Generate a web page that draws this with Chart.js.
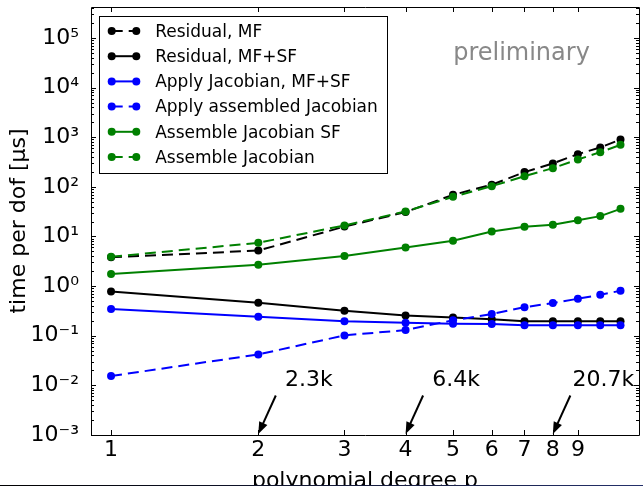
<!DOCTYPE html>
<html>
<head>
<meta charset="utf-8">
<script src="https://cdn.jsdelivr.net/npm/chart.js@4.4.0/dist/chart.umd.min.js"></script>
<style>
  html, body { margin:0; padding:0; background:#fff; overflow:hidden; }
  #wrap { position:relative; width:643px; height:486px; }
  #c { display:block; }
</style>
</head>
<body>
<div id="wrap"><canvas id="c" width="643" height="486"></canvas></div>
<script>
// ---- data ----
const degrees = [1, 2, 3, 4, 5, 6, 7, 8, 9, 10, 11];
const residualMF       = [3.8, 5.2, 15.8, 31, 69, 110, 198, 296, 456, 621, 900];
const residualMFSF     = [0.78, 0.46, 0.318, 0.257, 0.234, 0.215, 0.195, 0.195, 0.195, 0.195, 0.195];
const applyJacMFSF     = [0.344, 0.241, 0.195, 0.183, 0.175, 0.173, 0.162, 0.162, 0.162, 0.162, 0.162];
const applyAssembled   = [0.0154, 0.042, 0.1016, 0.130, 0.205, 0.274, 0.375, 0.455, 0.556, 0.668, 0.805];
const assembleJacSF    = [1.75, 2.69, 4.02, 6.02, 8.2, 12.6, 15.7, 17.2, 21.3, 25.7, 36];
const assembleJac      = [3.9, 7.45, 16.7, 31.9, 63, 103, 164, 238, 356, 500, 701];

const seriesLabels = ['Residual, MF', 'Residual, MF+SF', 'Apply Jacobian, MF+SF',
                      'Apply assembled Jacobian', 'Assemble Jacobian SF', 'Assemble Jacobian'];
const seriesValues = [residualMF, residualMFSF, applyJacMFSF, applyAssembled, assembleJacSF, assembleJac];

const xTickValues = [1, 2, 3, 4, 5, 6, 7, 8, 9];
const yTickExponents = [-3, -2, -1, 0, 1, 2, 3, 4, 5];

const annotDegrees = [2, 4, 8];
const annotLabels = ['2.3k', '6.4k', '20.7k'];
const watermark = 'preliminary';

// ---- styles ----
const DASH = [11, 6];
const seriesStyles = [
  { color: '#000000', dash: DASH },
  { color: '#000000', dash: [] },
  { color: '#0000ff', dash: [] },
  { color: '#0000ff', dash: DASH },
  { color: '#008000', dash: [] },
  { color: '#008000', dash: DASH }
];

const SUP = { '-': '\u207B', '0': '\u2070', '1': '\u00B9', '2': '\u00B2', '3': '\u00B3',
              '4': '\u2074', '5': '\u2075', '6': '\u2076', '7': '\u2077', '8': '\u2078', '9': '\u2079' };
const sup = s => String(s).split('').map(ch => SUP[ch] || ch).join('');

Chart.defaults.font.family = "'DejaVu Sans', sans-serif";
Chart.defaults.color = '#000';

const datasets = seriesValues.map((vals, k) => ({
  label: seriesLabels[k],
  data: degrees.map((d, i) => ({ x: d, y: vals[i] })),
  borderColor: seriesStyles[k].color,
  backgroundColor: seriesStyles[k].color,
  borderWidth: 2,
  borderDash: seriesStyles[k].dash,
  pointRadius: 4,
  pointHoverRadius: 4,
  pointBorderWidth: 0,
  pointBackgroundColor: seriesStyles[k].color,
  tension: 0,
  fill: false,
  order: -k
}));

const zeroPad = s => { s.paddingTop = 0; s.paddingBottom = 0; s.paddingLeft = 0; s.paddingRight = 0; };

const decor = {
  id: 'decor',
  afterDraw(chart) {
    const ctx = chart.ctx;
    const xs = chart.scales.x, ys = chart.scales.y;
    const a = chart.chartArea;
    ctx.save();

    // frame
    ctx.strokeStyle = '#000';
    ctx.lineWidth = 1;
    ctx.setLineDash([]);
    ctx.beginPath();
    ctx.moveTo(a.right + 0.5, a.top + 0.5);
    ctx.lineTo(a.left + 0.5, a.top + 0.5);
    ctx.lineTo(a.left + 0.5, a.bottom + 0.5);
    ctx.lineTo(a.right + 0.5, a.bottom + 0.5);
    ctx.lineTo(a.right + 0.5, a.top + 0.5);
    ctx.stroke();

    // inward tick marks
    ctx.beginPath();
    xTickValues.forEach(v => {
      const px = Math.round(xs.getPixelForValue(v)) + 0.5;
      ctx.moveTo(px, a.bottom); ctx.lineTo(px, a.bottom - 5);
      ctx.moveTo(px, a.top); ctx.lineTo(px, a.top + 5);
    });
    yTickExponents.forEach(e => {
      for (let k = 1; k <= 9; k++) {
        const v = k * Math.pow(10, e);
        if (v > ys.max) break;
        const py = Math.round(ys.getPixelForValue(v)) + 0.5;
        const len = k === 1 ? 5 : 3;
        ctx.moveTo(a.left, py); ctx.lineTo(a.left + len, py);
        ctx.moveTo(a.right, py); ctx.lineTo(a.right - len, py);
      }
    });
    ctx.stroke();

    // arrows + labels
    const y0 = ys.getPixelForValue(ys.min) - 1;
    annotDegrees.forEach((d, i) => {
      const tx = xs.getPixelForValue(d), ty = y0;
      const sx = tx + 17.5, sy = ty - 38.5;
      const dx = tx - sx, dy = ty - sy, L = Math.hypot(dx, dy);
      const ux = dx / L, uy = dy / L;
      const hl = 12, hw = 4.5;
      const bx = tx - ux * hl, by = ty - uy * hl;
      ctx.strokeStyle = '#000'; ctx.lineWidth = 2;
      ctx.beginPath(); ctx.moveTo(sx, sy); ctx.lineTo(bx + ux * 2, by + uy * 2); ctx.stroke();
      ctx.fillStyle = '#000';
      ctx.beginPath();
      ctx.moveTo(tx, ty);
      ctx.lineTo(bx - uy * hw, by + ux * hw);
      ctx.lineTo(bx + uy * hw, by - ux * hw);
      ctx.closePath(); ctx.fill();
      ctx.font = "22px 'DejaVu Sans'";
      ctx.textAlign = 'center'; ctx.textBaseline = 'alphabetic';
      ctx.fillText(annotLabels[i], tx + 50.5, 386);
    });

    // watermark
    ctx.fillStyle = '#888888';
    ctx.font = "24px 'DejaVu Sans'";
    ctx.textAlign = 'center'; ctx.textBaseline = 'alphabetic';
    ctx.fillText(watermark, 521.5, 59.5);

    // legend
    const lx0 = 99.5, ly0 = 16.5, lw = 288, lh = 157;
    ctx.fillStyle = '#fff'; ctx.fillRect(lx0, ly0, lw, lh);
    ctx.strokeStyle = '#000'; ctx.lineWidth = 1; ctx.setLineDash([]);
    ctx.strokeRect(lx0, ly0, lw, lh);
    chart.data.datasets.forEach((ds, i) => {
      const cy = 31 + i * 25.2;
      ctx.strokeStyle = ds.borderColor; ctx.lineWidth = 2;
      ctx.setLineDash(ds.borderDash || []);
      ctx.beginPath(); ctx.moveTo(111.7, cy); ctx.lineTo(136.3, cy); ctx.stroke();
      ctx.setLineDash([]);
      ctx.fillStyle = ds.borderColor;
      [111.7, 136.3].forEach(mx => { ctx.beginPath(); ctx.arc(mx, cy, 4, 0, 2 * Math.PI); ctx.fill(); });
      ctx.fillStyle = '#000';
      ctx.font = "17px 'DejaVu Sans'";
      ctx.textAlign = 'left'; ctx.textBaseline = 'alphabetic';
      ctx.fillText(ds.label, 155.2, cy + 5.8);
    });

    // bottom border line of the slide (text below it is cut off)
    ctx.fillStyle = '#fff';
    ctx.fillRect(0, 485, chart.width, 1);
    const g = ctx.createLinearGradient(0, 0, chart.width, 0);
    g.addColorStop(0, '#000000'); g.addColorStop(1, '#24306a');
    ctx.fillStyle = g;
    ctx.fillRect(0, 485, chart.width, 1);

    ctx.restore();
  }
};

new Chart(document.getElementById('c'), {
  type: 'line',
  data: { datasets },
  options: {
    responsive: false,
    animation: false,
    devicePixelRatio: 1,
    layout: { padding: { top: 7, right: 0, bottom: 0, left: 0 } },
    plugins: { legend: { display: false }, tooltip: { enabled: false } },
    scales: {
      x: {
        type: 'logarithmic',
        min: 0.91, max: 12,
        grid: { display: false, drawTicks: false },
        border: { display: false },
        afterBuildTicks: s => { s.ticks = xTickValues.map(v => ({ value: v })); },
        afterFit: s => { s.height = 51; zeroPad(s); },
        ticks: { autoSkip: false, maxRotation: 0, minRotation: 0, padding: 2, color: '#000',
                 font: { size: 22 }, callback: v => String(v) },
        title: { display: true, text: 'polynomial degree p', color: '#000', font: { size: 22 },
                 padding: { top: 0, bottom: -8 } }
      },
      y: {
        type: 'logarithmic',
        min: 1e-3, max: 4.2e5,
        grid: { display: false, drawTicks: false },
        border: { display: false },
        afterBuildTicks: s => { s.ticks = yTickExponents.map(e => ({ value: Math.pow(10, e) })); },
        afterFit: s => { s.width = 91; zeroPad(s); },
        ticks: { autoSkip: false, padding: 12, color: '#000', font: { size: 22 },
                 callback: v => '10' + sup(Math.round(Math.log10(v))) },
        title: { display: true, text: 'time per dof [\u03BCs]', color: '#000', font: { size: 22 },
                 padding: { top: 6, bottom: 0 } }
      }
    }
  },
  plugins: [decor]
});
</script>
</body>
</html>
